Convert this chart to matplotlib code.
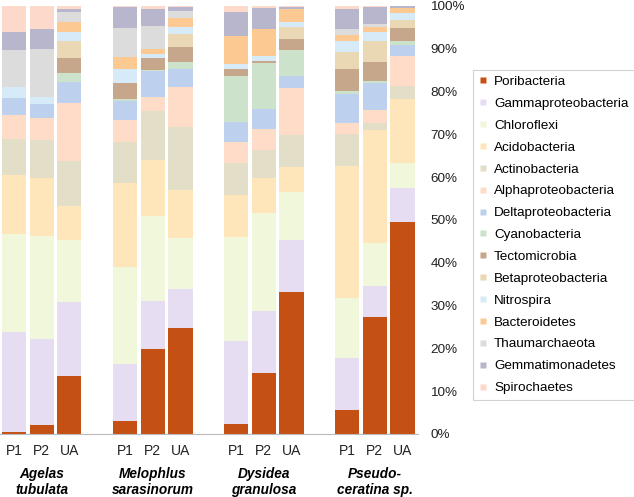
import numpy as np
from matplotlib import pyplot as plt
from matplotlib.lines import Line2D

plt.rcParams['font.family'] = ['Liberation Sans', 'DejaVu Sans']

# Образцы: 4 губки x (P1, P2, UA)
species = ["Agelas\ntubulata", "Melophlus\nsarasinorum", "Dysidea\ngranulosa", "Pseudo-\nceratina sp."]
samples = ["P1", "P2", "UA"]

taxa = ["Poribacteria", "Gammaproteobacteria", "Chloroflexi", "Acidobacteria",
        "Actinobacteria", "Alphaproteobacteria", "Deltaproteobacteria", "Cyanobacteria",
        "Tectomicrobia", "Betaproteobacteria", "Nitrospira", "Bacteroidetes",
        "Thaumarchaeota", "Gemmatimonadetes", "Spirochaetes"]

# Доли (%) по столбцам: A-P1, A-P2, A-UA, M-P1, M-P2, M-UA, D-P1, D-P2, D-UA, P-P1, P-P2, P-UA
poribacteria = [0.4, 2.1, 13.6, 3.1, 19.9, 24.8, 2.3, 14.3, 33.2, 5.6, 27.4, 49.4]
gammaproteobacteria = [23.5, 20.0, 17.3, 13.2, 11.2, 9.0, 19.5, 14.3, 12.1, 12.1, 7.2, 8.1]
chloroflexi = [22.8, 24.2, 14.3, 22.6, 19.8, 11.9, 24.3, 23.0, 11.2, 14.0, 10.0, 5.8]
acidobacteria = [13.8, 13.4, 8.1, 19.7, 13.1, 11.3, 9.7, 8.1, 5.8, 30.9, 26.4, 14.9]
actinobacteria = [8.5, 9.0, 10.5, 9.5, 11.5, 14.6, 7.6, 6.7, 7.6, 7.4, 1.7, 3.1]
alphaproteobacteria = [5.5, 5.2, 13.6, 5.3, 3.3, 9.5, 4.7, 4.9, 10.9, 2.7, 3.0, 6.9]
deltaproteobacteria = [3.9, 3.2, 4.9, 4.4, 5.9, 4.1, 4.9, 4.6, 2.9, 6.7, 6.2, 2.7]
cyanobacteria = [0.0, 0.0, 2.1, 0.5, 0.3, 1.8, 10.6, 10.7, 5.9, 0.8, 0.6, 1.0]
tectomicrobia = [0.0, 0.0, 3.5, 3.8, 2.9, 3.5, 1.7, 0.6, 2.6, 5.1, 4.3, 2.9]
betaproteobacteria = [0.0, 0.0, 4.0, 0.0, 0.0, 3.0, 0.0, 0.0, 2.8, 3.9, 4.9, 1.9]
nitrospira = [2.7, 1.6, 2.1, 3.1, 0.9, 1.7, 1.1, 1.1, 1.2, 2.5, 2.3, 1.6]
bacteroidetes = [0.0, 0.0, 2.3, 2.8, 1.1, 1.9, 6.6, 6.3, 3.1, 1.5, 1.2, 1.2]
thaumarchaeota = [8.5, 11.2, 2.4, 6.9, 5.4, 1.7, 0.0, 0.0, 0.0, 1.4, 0.5, 0.0]
gemmatimonadetes = [4.4, 4.7, 0.6, 4.8, 3.9, 0.9, 5.7, 4.9, 0.5, 4.6, 4.0, 0.5]
spirochaetes = [6.0, 5.4, 0.7, 0.3, 0.8, 0.3, 1.3, 0.5, 0.2, 0.8, 0.3, 0.0]

values = [poribacteria, gammaproteobacteria, chloroflexi, acidobacteria, actinobacteria,
          alphaproteobacteria, deltaproteobacteria, cyanobacteria, tectomicrobia,
          betaproteobacteria, nitrospira, bacteroidetes, thaumarchaeota,
          gemmatimonadetes, spirochaetes]

colors = ["#c55014", "#e6ddf3", "#f0f7da", "#fee6ba", "#e2dec8", "#fedcc7", "#bdd0ee",
          "#cde2cb", "#c7a78b", "#ead7b3", "#d6eaf7", "#fdc992", "#dcdcdc", "#b8b6cc",
          "#fdd9cb"]

# Позиции столбцов: по 3 в группе, промежуток в один слот
x = np.array([g * 4 + i for g in range(len(species)) for i in range(len(samples))])

fig = plt.figure(figsize=(6.34, 4.97), dpi=100)
ax = fig.add_axes([0.0, 0.127, 0.659, 0.861])

bottom = np.zeros(len(x))
for name, vals, c in zip(taxa, values, colors):
    vals = np.array(vals)
    ax.bar(x, vals, bottom=bottom, width=0.87, color=c, linewidth=0, label=name)
    bottom += vals

ax.set_xlim(-0.5, 14.55)
ax.set_ylim(0, 100)

ax.yaxis.tick_right()
ax.set_yticks(np.arange(0, 101, 10))
ax.set_yticklabels([f"{v}%" for v in range(0, 101, 10)], fontsize=9.7, color="#222222")
ax.tick_params(axis="y", length=0, pad=9)

ax.set_xticks(x)
ax.set_xticklabels(samples * len(species), fontsize=10, color="#222222")
ax.tick_params(axis="x", length=0, pad=7)

for s in ["top", "left", "right"]:
    ax.spines[s].set_visible(False)
ax.spines["bottom"].set_color("#bbbbbb")
ax.spines["bottom"].set_linewidth(0.8)

for g, sp in enumerate(species):
    ax.text(g * 4 + 1, -7.7, sp, ha="center", va="top", fontsize=9.8,
            fontweight="bold", fontstyle="italic", linespacing=1.2,
            transform=ax.transData)

handles = [Line2D([], [], marker="s", linestyle="none", markersize=3.8,
                  markerfacecolor=c, markeredgecolor="none") for c in colors]
leg = fig.legend(handles, taxa, loc="upper left", bbox_to_anchor=(0.746, 0.859),
                 fontsize=9.7, frameon=True, fancybox=False, handlelength=0.6,
                 handletextpad=0.55, labelspacing=0.7, borderpad=0.42,
                 borderaxespad=0)
leg.get_frame().set_edgecolor("#c8c8c8")
leg.get_frame().set_linewidth(0.8)

plt.savefig("out.png", dpi=100)
plt.close()
